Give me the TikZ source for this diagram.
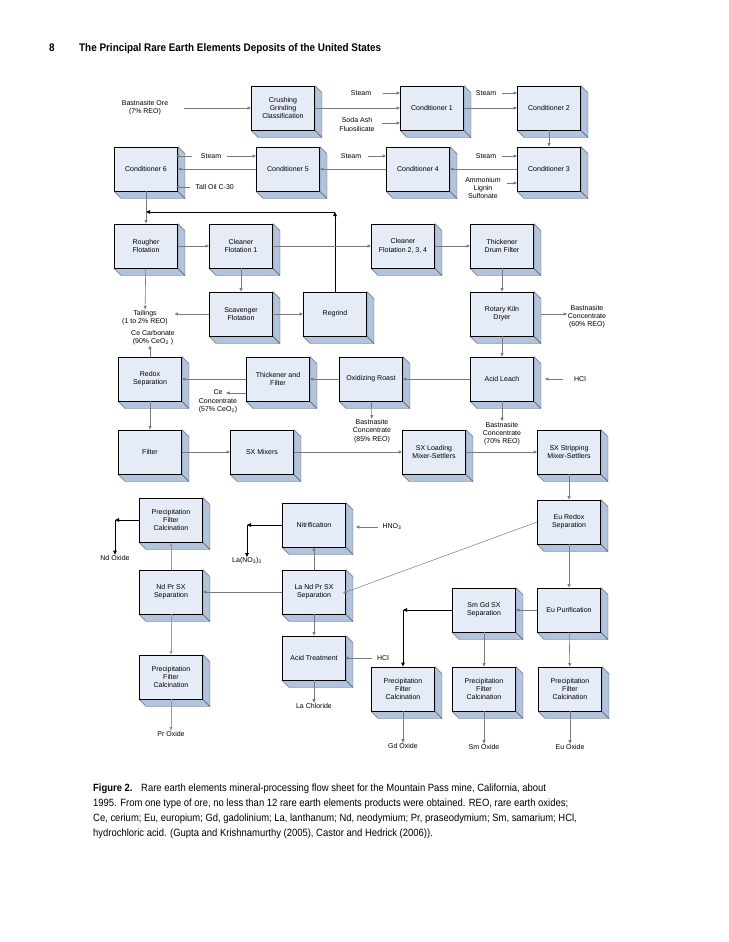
\documentclass[tikz,border=0pt]{standalone}
\usepackage{fontspec}
\setmainfont{Liberation Sans}
\newfontfamily\condfont[FakeStretch=0.9]{Liberation Sans}
\usetikzlibrary{
    arrows.meta,
    positioning,
    calc,
    backgrounds
}
\definecolor{facecol}{HTML}{E5EBF7}
\definecolor{sidecol}{HTML}{B2C3DE}
\definecolor{wiregray}{HTML}{7A7A7A}
\tikzset{
    % --- Process unit (front face of the 3D block) ---
    unit/.style = {
        rectangle, draw=black, line width=0.9pt, fill=facecol,
        minimum width=63pt, minimum height=44pt, inner sep=1pt,
        align=center, font=\fontsize{7}{8.3}\selectfont
    },
    % --- Extruded side of a unit ---
    side/.style = {
        fill=sidecol, draw=black!70, line width=0.4pt
    },
    % --- Reagent / product label ---
    stream/.style = {
        font=\fontsize{7}{8.3}\selectfont, align=center, inner sep=0.5pt
    },
    % --- Process flow arrow ---
    flow/.style = {
        draw=wiregray, line width=0.6pt,
        -{Triangle[length=3.5pt,width=3pt]}
    },
    % --- Final product / recycle arrow ---
    product/.style = {
        draw=black, line width=0.9pt,
        -{Triangle[length=4pt,width=3.5pt]}
    }
}

\begin{document}
\begin{tikzpicture}[x=1pt, y=-1pt]

\useasboundingbox (0,0) rectangle (728,942);

% ---------------------------------------------------------
% Page header
% ---------------------------------------------------------
\node[font=\condfont\bfseries\fontsize{11}{13}\selectfont, anchor=base west, inner sep=0pt] (pageno) at (49,52) {8};
\node[font=\condfont\bfseries\fontsize{11}{13}\selectfont, anchor=base west, inner sep=0pt] (title) at (79,52)
    {The Principal Rare Earth Elements Deposits of the United States};

% ---------------------------------------------------------
% Conditioning
% ---------------------------------------------------------
\node[unit] (Crush) at (283,108) {Crushing\\Grinding\\Classification};
\node[unit] (C1) at (432,108) {Conditioner 1};
\node[unit] (C2) at (549,108) {Conditioner 2};
\node[unit] (C6) at (146,169) {Conditioner 6};
\node[unit] (C5) at (288,169) {Conditioner 5};
\node[unit] (C4) at (418,169) {Conditioner 4};
\node[unit] (C3) at (549,169) {Conditioner 3};

% ---------------------------------------------------------
% Flotation
% ---------------------------------------------------------
\node[unit] (Rougher) at (146,246) {Rougher\\Flotation};
\node[unit] (Clean1) at (241,246) {Cleaner\\Flotation 1};
\node[unit] (Clean234) at (403,246) {Cleaner\\Flotation 2, 3, 4};
\node[unit] (Thick) at (502,246) {Thickener\\Drum Filter};
\node[unit] (Scav) at (241,314) {Scavenger\\Flotation};
\node[unit] (Regrind) at (335,314) {Regrind};
\node[unit] (Rotary) at (502,314) {Rotary Kiln\\Dryer};

% ---------------------------------------------------------
% Leaching and roasting
% ---------------------------------------------------------
\node[unit] (Redox) at (150,379) {Redox\\Separation};
\node[unit] (ThickF) at (278,379) {Thickener and\\Filter};
\node[unit] (OxRoast) at (371,379) {Oxidizing Roast};
\node[unit] (AcidLeach) at (502,379) {Acid Leach};

% ---------------------------------------------------------
% Solvent extraction
% ---------------------------------------------------------
\node[unit] (Filter) at (150,452) {Filter};
\node[unit] (SXMix) at (262,452) {SX Mixers};
\node[unit] (SXLoad) at (434,452) {SX Loading\\Mixer-Settlers};
\node[unit] (SXStrip) at (569,452) {SX Stripping\\Mixer-Settlers};

% ---------------------------------------------------------
% Separation of the elements
% ---------------------------------------------------------
\node[unit] (PFCNd) at (171,520) {Precipitation\\Filter\\Calcination};
\node[unit] (Nitri) at (314,525) {Nitrification};
\node[unit] (EuRedox) at (569,522) {Eu Redox\\Separation};
\node[unit] (NdPr) at (171,592) {Nd Pr SX\\Separation};
\node[unit] (LaNdPr) at (314,592) {La Nd Pr SX\\Separation};
\node[unit] (SmGd) at (484,610) {Sm Gd SX\\Separation};
\node[unit] (EuPur) at (569,610) {Eu Purification};
\node[unit] (PFCPr) at (171,677) {Precipitation\\Filter\\Calcination};
\node[unit] (AcidT) at (314,658) {Acid Treatment};
\node[unit] (PFCGd) at (403,689) {Precipitation\\Filter\\Calcination};
\node[unit] (PFCSm) at (484,689) {Precipitation\\Filter\\Calcination};
\node[unit] (PFCEu) at (570,689) {Precipitation\\Filter\\Calcination};

% 3D sides, behind the units
\begin{pgfonlayer}{background}
\fill[white] (0,0) rectangle (728,942);
\foreach \n in {Crush, C1, C2, C6, C5, C4, C3, Rougher, Clean1, Clean234, Thick,
    Scav, Regrind, Rotary, Redox, ThickF, OxRoast, AcidLeach, Filter, SXMix,
    SXLoad, SXStrip, PFCNd, Nitri, EuRedox, NdPr, LaNdPr, SmGd, EuPur, PFCPr,
    AcidT, PFCGd, PFCSm, PFCEu} {
    \filldraw[side] (\n.north east) -- ++(7,7) -- ($(\n.south east)+(7,7)$)
        -- ($(\n.south west)+(7,7)$) -- (\n.south west) -- (\n.south east) -- cycle;
    \draw[side, fill=none] (\n.south east) -- ++(7,7);
}
\end{pgfonlayer}

% ---------------------------------------------------------
% Reagents and products
% ---------------------------------------------------------
\node[stream] (ore) at (145,108) {Bastnasite Ore\\(7\% REO)};
\node[stream] (steamA) at (361,93) {Steam};
\node[stream] (soda) at (357,124.5) {Soda Ash\\Fluosilicate};
\node[stream] (steamB) at (486,93) {Steam};
\node[stream] (steamC) at (486,156) {Steam};
\node[stream, font=\fontsize{7}{8}\selectfont] (amm) at (483,188) {Ammonium\\Lignin\\Sulfonate};
\node[stream] (steamD) at (351,156) {Steam};
\node[stream] (steamE) at (211,156) {Steam};
\node[stream, anchor=west] (tall) at (195,187) {Tall Oil C-30};
\coordinate (recycle) at (146,212);
\node[stream] (tail) at (145,317.5) {Tailings\\(1 to 2\% REO)};
\node[stream] (cecarb) at (153,337.5) {Ce Carbonate\\(90\% CeO\textsubscript{2} )};
\node[stream] (bastA) at (587,316.5) {Bastnasite\\Concentrate\\(60\% REO)};
\node[stream] (hclA) at (580,379) {HCl};
\node[stream] (ceconc) at (218,401.5) {Ce\\Concentrate\\(57\% CeO\textsubscript{2})};
\node[stream] (bastB) at (372,431) {Bastnasite\\Concentrate\\(85\% REO)};
\node[stream] (bastC) at (502,433.5) {Bastnasite\\Concentrate\\(70\% REO)};
\node[stream] (hno) at (392,527) {HNO\textsubscript{3}};
\node[stream] (lano) at (247,561) {La(NO\textsubscript{3})\textsubscript{3}};
\node[stream] (ndox) at (115,558) {Nd Oxide};
\node[stream] (hclB) at (383,658) {HCl};
\node[stream] (lacl) at (314,706) {La Chloride};
\node[stream] (prox) at (171,734) {Pr Oxide};
\node[stream] (gdox) at (403,746) {Gd Oxide};
\node[stream] (smox) at (484,747) {Sm Oxide};
\node[stream] (euox) at (570,747) {Eu Oxide};

% ---------------------------------------------------------
% Conditioning flows
% ---------------------------------------------------------
\draw[flow, shorten <=15pt] (ore) -- (Crush);
\draw[flow, shorten <=11pt] (steamA.east) -- (steamA.east -| C1.west);
\draw[flow, shorten <=7pt] ([yshift=1.5pt]soda.east) -- ([yshift=1.5pt]soda.east -| C1.west);
\draw[flow] (Crush) -- (C1);
\draw[flow] (C1) -- (C2);
\draw[flow, shorten <=5pt] (steamB.east) -- (steamB.east -| C2.west);
\draw[flow] (C2) -- (C3);
\draw[flow, shorten <=5pt] (steamC.east) -- (steamC.east -| C3.west);
\draw[flow, shorten <=6pt] ([yshift=5pt]amm.east) -- ([yshift=5pt]amm.east -| C3.west);
\draw[flow] (C3) -- (C4);
\draw[flow, shorten <=6pt] (steamD.east) -- (steamD.east -| C4.west);
\draw[flow] (C4) -- (C5);
\draw[flow] (C5) -- (C6);
\draw[flow, shorten <=8pt, shorten >=-2pt] (steamE.west) -- (steamE.west -| C6.east);
\draw[flow, shorten <=5pt] (steamE.east) -- (steamE.east -| C5.west);
\draw[flow, shorten <=5pt, shorten >=-2pt] (tall.west) -- (tall.west -| C6.east);

% ---------------------------------------------------------
% Flotation flows
% ---------------------------------------------------------
\draw[flow] (C6) -- (Rougher);
\draw[product] (Regrind.north) -- (Regrind.north |- recycle);
\draw[product] (Regrind.north |- recycle) -- (recycle);
\draw[flow] (Rougher) -- (Clean1);
\draw[flow] (Clean1) -- (Clean234);
\draw[flow] (Clean234) -- (Thick);
\draw[flow] (Clean1) -- (Scav);
\draw[flow] (Scav) -- (Regrind);
\draw[flow, shorten >=6pt] (Scav.west) -- (Scav.west -| tail.east);
\draw[flow] (Rougher) -- (tail);
\draw[flow] (Redox.north) -- (Redox.north |- cecarb.south);
\draw[flow] (Thick) -- (Rotary);
\draw[flow, shorten <=7pt] (Rotary.east) -- (Rotary.east -| bastA.west);
\draw[flow] (Rotary) -- (AcidLeach);

% ---------------------------------------------------------
% Leach and roast flows
% ---------------------------------------------------------
\draw[flow, shorten <=10pt, shorten >=11pt] (hclA) -- (AcidLeach);
\draw[flow] (AcidLeach) -- (OxRoast);
\draw[flow] (OxRoast) -- (ThickF);
\draw[flow] (ThickF) -- (Redox);
\draw[flow] ([yshift=-14pt]ThickF.west) -- ++(-20,0);
\draw[flow] (OxRoast) -- (bastB);
\draw[flow] (AcidLeach) -- (bastC);
\draw[flow] (Redox) -- (Filter);

% ---------------------------------------------------------
% SX flows
% ---------------------------------------------------------
\draw[flow] (Filter) -- (SXMix);
\draw[flow] (SXMix) -- (SXLoad);
\draw[flow] (SXLoad) -- (SXStrip);
\draw[flow] (SXStrip) -- (EuRedox);
\draw[flow, line width=0.5pt, shorten >=-3pt] (EuRedox.west) -- (LaNdPr.east);
\draw[flow] (EuRedox) -- (EuPur);
\draw[flow] (EuPur) -- (SmGd);
\draw[product] (SmGd.west) -- (SmGd.west -| PFCGd.north);
\draw[product] (SmGd.west -| PFCGd.north) -- (PFCGd.north);
\draw[flow] (SmGd) -- (PFCSm);
\draw[flow] (EuPur) -- (PFCEu);
\draw[flow] (PFCGd) -- (gdox);
\draw[flow] (PFCSm) -- (smox);
\draw[flow] (PFCEu) -- (euox);

% ---------------------------------------------------------
% La, Nd, Pr flows
% ---------------------------------------------------------
\draw[flow, shorten <=4pt, shorten >=10pt] (hno.west) -- (hno.west -| Nitri.east);
\draw[product] (Nitri.west) -- (Nitri.west -| lano);
\draw[product] (Nitri.west -| lano) -- (lano.north);
\draw[product] (PFCNd.west) -- (PFCNd.west -| ndox);
\draw[product] (PFCNd.west -| ndox) -- (ndox.north);
\draw[flow, draw=black!40] (NdPr) -- (PFCNd);
\draw[flow] (LaNdPr) -- (Nitri);
\draw[flow] (LaNdPr) -- (NdPr);
\draw[flow, draw=black!40] (NdPr) -- (PFCPr);
\draw[flow, draw=black!40] (PFCPr) -- (prox);
\draw[flow] (LaNdPr) -- (AcidT);
\draw[flow, shorten <=4pt, shorten >=-1pt] (hclB.west) -- (hclB.west -| AcidT.east);
\draw[flow] (AcidT) -- (lacl);

% ---------------------------------------------------------
% Caption
% ---------------------------------------------------------
\node[font=\condfont\fontsize{10.5}{15}\selectfont, align=left, anchor=north west, inner sep=0pt] (caption) at (93,784) {%
    \makebox[48pt][l]{\textbf{Figure 2.}}Rare earth elements mineral-processing flow sheet for the Mountain Pass mine, California, about\\
    1995. From one type of ore, no less than 12 rare earth elements products were obtained. REO, rare earth oxides;\\
    Ce, cerium; Eu, europium; Gd, gadolinium; La, lanthanum; Nd, neodymium; Pr, praseodymium; Sm, samarium; HCl,\\
    hydrochloric acid. (Gupta and Krishnamurthy (2005), Castor and Hedrick (2006)).};

\end{tikzpicture}
\end{document}
